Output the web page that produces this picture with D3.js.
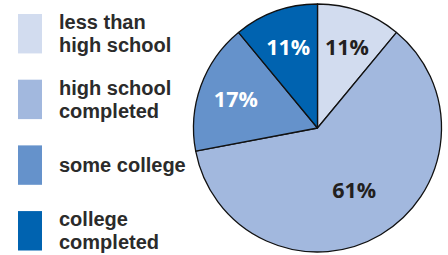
<!DOCTYPE html>
<html>
<head>
<meta charset="utf-8">
<script src="https://cdn.jsdelivr.net/npm/d3@7"></script>
<style>
  body { margin: 0; background: #fff; }
  svg { display: block; }
  text { font-family: "Open Sans", "Noto Sans", sans-serif; font-weight: 700; }
  .legend text { font-family: "Liberation Sans", Arial, sans-serif; }
</style>
</head>
<body>
<div id="chart"></div>
<script>
const categories = ['less than high school', 'high school completed', 'some college', 'college completed'];
const legendLines = [['less than', 'high school'], ['high school', 'completed'], ['some college'], ['college', 'completed']];
const values = [11, 61, 17, 11];
const colors = ['#d2dcef', '#a2b8de', '#6592cb', '#0063b0'];
const labelColors = ['#231f20', '#231f20', '#ffffff', '#ffffff'];

const width = 448, height = 255;
const cx = 317.5, cy = 128, radius = 124;

const svg = d3.select('#chart')
    .append('svg')
    .attr('width', width)
    .attr('height', height);

const pie = d3.pie().sort(null).value(d => d)(values);
const arc = d3.arc().innerRadius(0).outerRadius(radius);

const pieG = svg.append('g')
    .attr('transform', `translate(${cx},${cy})`);

pieG.selectAll('path')
    .data(pie)
    .join('path')
        .attr('d', arc)
        .attr('fill', (d, i) => colors[i])
        .attr('stroke', '#111')
        .attr('stroke-width', 1.3)
        .attr('stroke-linejoin', 'round');

// big slice label sits closer to the centre
const labelArc = d => d3.arc()
    .innerRadius(0)
    .outerRadius(radius * (d.value > 50 ? 1.16 : 1.4))
    .centroid(d);

pieG.selectAll('text')
    .data(pie)
    .join('text')
        .attr('x', d => labelArc(d)[0])
        .attr('y', d => labelArc(d)[1])
        .attr('text-anchor', 'middle')
        .attr('dominant-baseline', 'central')
        .attr('font-size', '21.5px')
        .attr('fill', (d, i) => labelColors[i])
        .text(d => d.value + '%');

// legend
const y = d3.scaleBand()
    .domain(categories)
    .range([14, 250.5])
    .paddingInner(0.4);

const legendG = svg.append('g').attr('class', 'legend');

legendG.selectAll('rect')
    .data(categories)
    .join('rect')
        .attr('x', 18)
        .attr('y', d => y(d))
        .attr('width', 24)
        .attr('height', y.bandwidth())
        .attr('fill', (d, i) => colors[i]);

// one text per line, so the lines stay apart
legendG.selectAll('g.item')
    .data(categories)
    .join('g')
        .attr('class', 'item')
        .each(function(d, i) {
            const lines = legendLines[i];
            const mid = y(d) + y.bandwidth() / 2;
            const first = mid - (lines.length - 1) * 11.5 + 7;
            d3.select(this).selectAll('text')
                .data(lines)
                .join('text')
                    .attr('x', 59)
                    .attr('y', (l, j) => first + j * 23)
                    .attr('font-size', '20px')
                    .attr('fill', '#2b2b2b')
                    .text(l => l);
        });
</script>
</body>
</html>
